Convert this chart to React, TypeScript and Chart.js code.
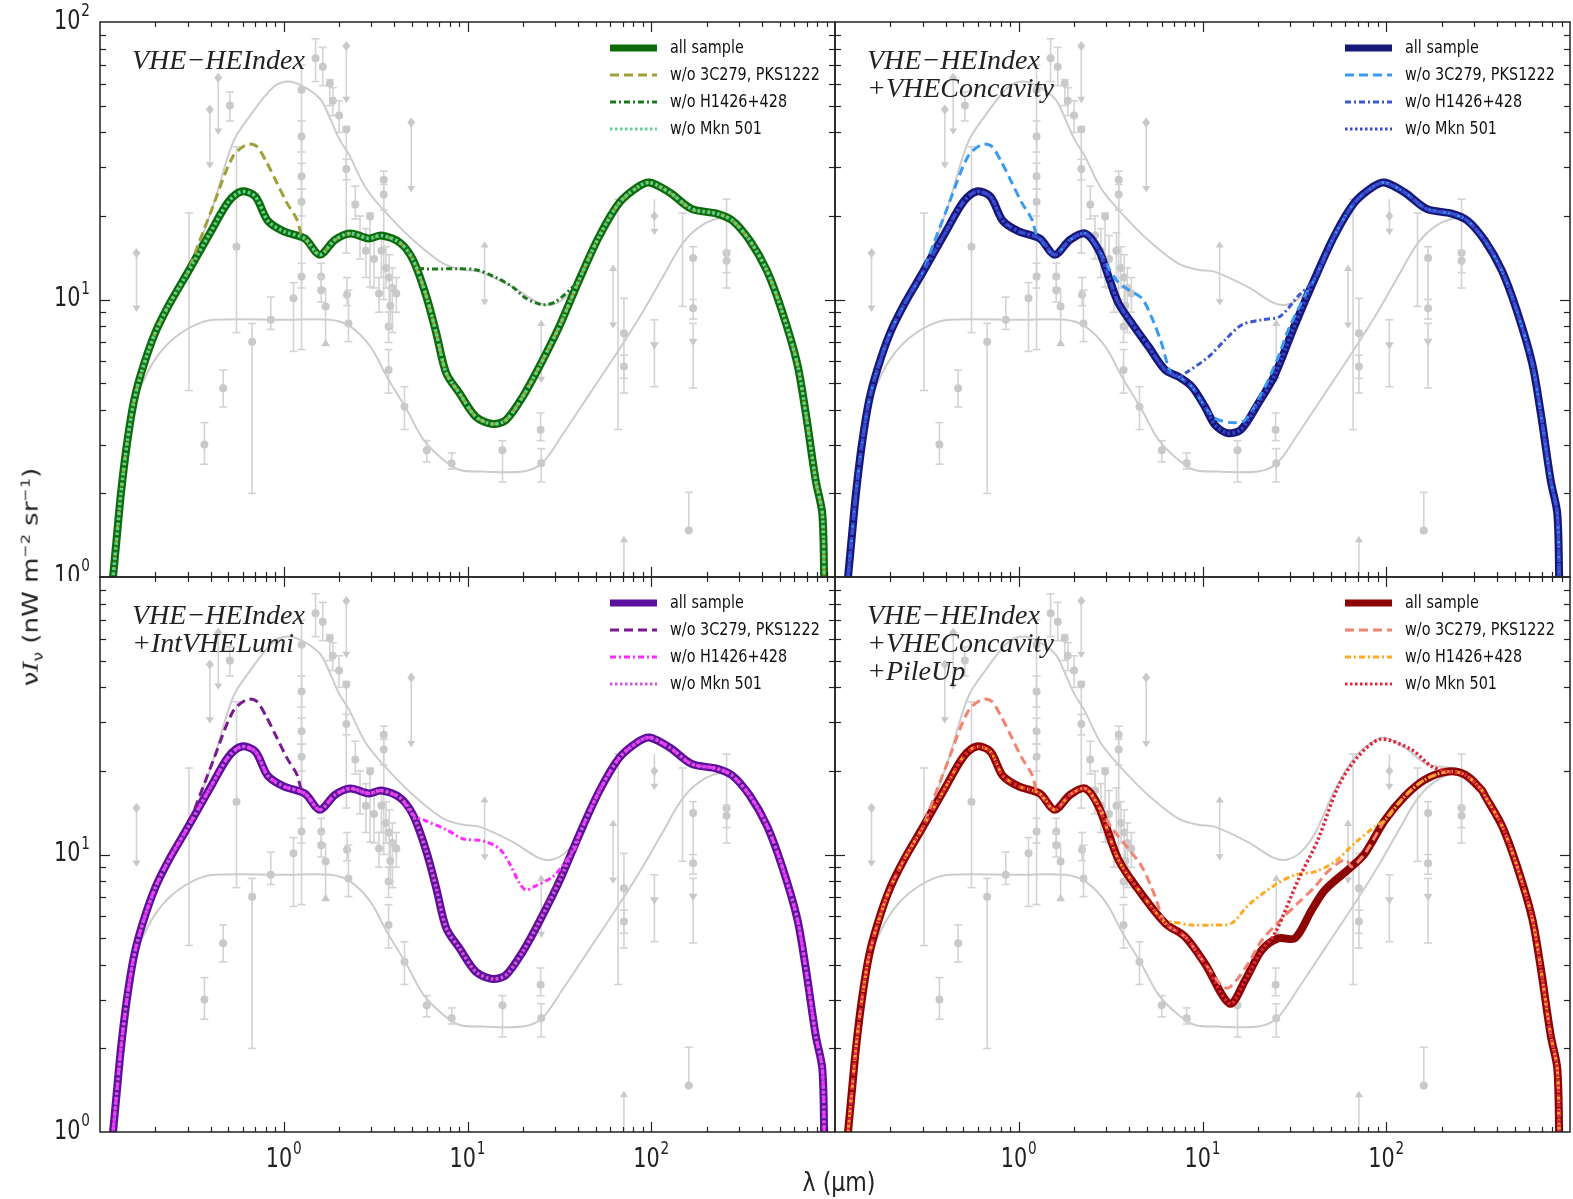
import React, { useEffect, useRef } from 'react';
import { Chart, registerables } from 'chart.js';
Chart.register(...registerables);

// ---------------- DATA ----------------
// main "all sample" curve (wavelength in µm, νIν in nW m^-2 sr^-1)
const baseLam = [0.116, 0.123, 0.13, 0.14, 0.153, 0.17, 0.2, 0.24, 0.3, 0.4, 0.5, 0.59, 0.7, 0.82, 1.0, 1.3, 1.57, 1.9, 2.3, 2.9, 3.4, 4.3, 5.05, 5.96, 6.76, 7.66, 9.05, 11.1, 13.7, 16.2, 20, 24.6, 31.6, 40.6, 52.1, 67, 85, 98, 126, 166, 227, 275, 344, 426, 514, 622, 693, 785, 853, 875];
const baseVal = [0.9, 1.36, 2.0, 3.0, 4.3, 5.6, 7.6, 9.7, 12.5, 17.5, 22.5, 24.5, 23.5, 19.2, 17.6, 16.6, 14.5, 16.4, 17.3, 16.6, 17.0, 16.0, 13.9, 10.3, 7.56, 5.43, 4.59, 3.78, 3.56, 3.68, 4.47, 5.73, 8.0, 11.8, 16.9, 22.3, 25.5, 26.4, 24.3, 21.2, 20.4, 19.3, 16.3, 12.7, 9.1, 5.9, 3.9, 2.23, 1.69, 0.9];

// w/o 3C279, PKS1222 optical bump (same in all panels)
const bumpLam = [0.308, 0.411, 0.528, 0.63, 0.713, 0.809, 0.916, 1.04, 1.18, 1.25];
const bumpVal = [13.1, 21.6, 32.7, 36.2, 35.6, 31.1, 26.4, 22.3, 19.4, 17.0];

// panel 1 (VHE-HEIndex): w/o H1426+428 segment
const p1DashDotLam = [5.26, 8.68, 11.1, 14.3, 17.6, 20.8, 25.7, 30.3, 37.4];
const p1DashDotVal = [13.0, 12.9, 12.8, 12.0, 11.1, 10.1, 9.57, 9.84, 11.1];

// panel 2 (+VHEConcavity)
const p2SolidLam = [2.72, 3.08, 3.49, 4.13, 5.09, 6.27, 7.41, 8.75, 10.3, 11.7, 13.7, 16.2, 20, 24.6];
const p2SolidVal = [15.1, 12.1, 9.7, 8.2, 6.76, 5.57, 5.27, 4.85, 4.11, 3.53, 3.3, 3.4, 4.2, 5.3];
const p2DashALam = [3.08, 3.49, 4.0, 4.68, 5.3, 6.01, 6.7];
const p2DashAVal = [13.0, 11.5, 10.8, 10.1, 8.6, 6.9, 5.45];
const p2DashBLam = [11.7, 14.4, 17.1, 21, 25.9, 29.3, 36.1];
const p2DashBVal = [3.73, 3.6, 3.68, 4.59, 6.22, 7.77, 10.3];
const p2DashDotLam = [8.05, 10.8, 13.3, 16.4, 21, 26.4, 33.2];
const p2DashDotVal = [5.42, 6.22, 7.16, 8.11, 8.45, 8.69, 10.3];

// panel 3 (+IntVHELumi)
const p3DashLam = [25.2, 27.3, 30.3, 33];
const p3DashVal = [5.97, 6.77, 7.77, 8.8];
const p3DashDotLam = [5.05, 5.96, 7.66, 9.43, 12.1, 14.9, 16.9, 19.2, 20.8, 23.1, 29.1, 33.7, 39];
const p3DashDotVal = [13.9, 13.2, 12.3, 11.4, 11.2, 10.5, 9.3, 7.88, 7.45, 7.66, 8.32, 9.3, 10.7];

// panel 4 (+VHEConcavity +PileUp)
const p4SolidLam = [2.72, 3.49, 4.49, 6.27, 8.05, 10.3, 14.1, 17.1, 21, 25.9, 31.9, 39.3, 46.4, 64.8, 76.6, 98.4, 126, 162, 217, 268, 330];
const p4SolidVal = [14.9, 9.57, 7.45, 5.65, 5.05, 4.05, 2.9, 3.53, 4.52, 4.99, 4.99, 6.31, 7.45, 9.04, 10.1, 13.3, 16.2, 18.6, 19.9, 19.4, 17.1];
const p4DashALam = [3.2, 3.9, 4.68, 5.53];
const p4DashAVal = [12.5, 10.6, 9.04, 7.05];
const p4DashBLam = [13.5, 17.1, 21, 25.9, 33.2, 41, 48, 60];
const p4DashBVal = [3.3, 3.9, 4.9, 5.7, 6.7, 7.66, 8.67, 9.6];
const p4DashDotLam = [6.53, 8.75, 11.2, 14.4, 17.8, 24.8, 31.9, 41, 52.6, 67.6, 86.8];
const p4DashDotVal = [5.73, 5.57, 5.57, 5.65, 6.58, 7.77, 8.44, 8.67, 9.43, 11.0, 12.6];
const p4DotLam = [24.8, 33.2, 42.5, 54.8, 70.4, 93, 137, 176];
const p4DotVal = [5.2, 8.1, 11.3, 17.6, 22.6, 26.0, 23.9, 20.8];

// grey envelope curves
const greyUpLam = [0.116, 0.13, 0.153, 0.2, 0.24, 0.308, 0.411, 0.528, 0.654, 0.87, 1.05, 1.27, 1.57, 1.71, 2.0, 2.28, 2.82, 3.77, 5.26, 7.35, 9.43, 11.6, 17.6, 24.6, 29, 34.3, 40.6, 52.1, 67, 85, 98, 126, 166, 227, 275, 344, 426, 514, 622, 693, 785, 853, 875];
const greyUpVal = [0.9, 2.0, 4.3, 7.6, 9.7, 13.1, 21.6, 36.7, 45.8, 58, 61, 58.7, 53, 48, 38, 33, 25, 19.9, 16, 13.5, 12.8, 12.6, 11.1, 9.7, 9.6, 10.2, 11.8, 16.9, 22.3, 25.5, 26.4, 24.3, 21.2, 20.4, 19.3, 16.3, 12.7, 9.1, 5.9, 3.9, 2.23, 1.69, 0.9];
const greyLoLam = [0.116, 0.13, 0.14, 0.153, 0.17, 0.2, 0.25, 0.33, 0.42, 1.0, 1.79, 2.3, 2.96, 3.64, 4.68, 5.77, 7.41, 9.1, 12, 20, 25.4, 33.2, 46.4, 64.8, 86.8, 116, 149, 191, 246, 300, 344, 426, 514, 622, 693, 785, 853, 875];
const greyLoVal = [0.9, 2.0, 3.0, 4.2, 5.0, 6.1, 7.2, 8.1, 8.45, 8.45, 8.45, 8.0, 6.76, 5.27, 4.0, 3.12, 2.64, 2.43, 2.4, 2.4, 2.57, 3.29, 4.59, 6.4, 8.69, 12.1, 16, 18.6, 19.7, 19.1, 16.3, 12.7, 9.1, 5.9, 3.9, 2.23, 1.69, 0.9];

// grey EBL measurements / limits: λ, value, lower end, upper end, kind
const ptLam = [0.158, 0.305, 0.37, 0.396, 0.44, 0.468, 0.509, 0.553, 0.673, 0.85, 1.13, 1.25, 1.25, 1.25, 1.25, 1.25, 1.49, 1.6, 1.6, 1.63, 1.69, 1.78, 1.85, 2.0, 2.19, 2.19, 2.19, 2.21, 2.25, 2.45, 2.95, 3.5, 3.5, 3.4, 3.6, 3.75, 3.9, 3.72, 3.72, 4.54, 4.94, 6.0, 8.2, 12.4, 15.5, 25.2, 25.0, 25.2, 62, 66, 71, 71, 104, 104, 148, 169, 169, 169, 257, 257, 160, 71, 2.6, 2.8, 3.1, 3.3, 3.8, 4.1];
const ptVal = [14.7, 12, 3.0, 48.4, 63, 4.79, 50, 15.5, 7.05, 8.45, 10.1, 57, 38.7, 27.8, 22.5, 12.1, 74, 12.1, 10.8, 69, 9.44, 60, 52, 46, 82, 41, 29.5, 10.4, 8.2, 22, 19.9, 27, 23.9, 15, 13, 12, 11, 8.0, 5.57, 4.11, 43.4, 2.86, 2.57, 12.5, 2.86, 6.5, 3.39, 2.57, 10, 10, 7.55, 5.73, 20, 6.76, 14, 14.1, 9.3, 6.95, 14.7, 13.8, 1.47, 1.0, 17, 15, 14, 10.5, 9.5, 10.5];
const ptLo = [9.2, 4.7, 2.55, 30.2, 40, 4.1, 44, 7.6, 2.0, 7.8, 6.5, 6.6, 34, 25, 20, 11, 61, 11, 9.8, 59, 7.05, 50, 46, 40, 52, 14.7, 27, 9.5, 7.05, 19.5, 11.1, 10, 21, 12, 11, 9, 7.6, 7.0, 4.6, 3.4, 24.8, 2.6, 2.45, 9.7, 2.2, 5.1, 3.1, 2.2, 8.0, 3.4, 4.6, 5.2, 17.4, 4.85, 9.45, 9.2, 8.5, 4.8, 11, 12.5, 1.47, 1.0, 14, 12, 11, 9, 8, 9];
const ptHi = [14.7, 20.5, 3.6, 48.4, 63, 5.57, 56, 35.5, 8.2, 10.2, 11.5, 70, 44, 31, 25, 13.5, 87, 13.5, 12, 81, 11, 62, 58, 52, 82, 42, 32, 12, 10.8, 25.6, 20.5, 29, 26, 17.4, 15.5, 14.5, 13, 9.0, 6.6, 4.85, 43.4, 3.1, 2.8, 15.9, 3.1, 8.3, 3.9, 2.9, 13.1, 23, 10.1, 6.3, 23, 8.45, 20.5, 15.5, 10, 8.2, 23, 15, 2.02, 1.38, 20, 18, 17, 12, 11, 12];
const ptKind = ['d', 'b', 'o', 'd', 'd', 'o', 'o', 'o', 'o', 'o',
  'o', 'o', 'o', 'o', 'o', 'o', 'o', 'o', 'o', 'o',
  '^', 'o', 'o', 'o', 'd', 'o', 'o', 'o', 'o', 'o',
  'o', 'o', 'o', 'o', 'o', 'o', 'o', 'o', 'o', 'o',
  'd', 'o', 'o', 'r', 'o', 'r', 'o', 'o', 'r', 'b',
  'o', 'o', 'd', 'v', 'b', 'o', 'o', 'v', 'o', 'o',
  'o', 'u', 'o', 'o', 'o', 'o', 'o', 'o'];

const legendLabels = ['all sample', 'w/o 3C279, PKS1222', 'w/o H1426+428', 'w/o Mkn 501'];
const panelTitles = [
  ['VHE\u2212HEIndex'],
  ['VHE\u2212HEIndex', '+VHEConcavity'],
  ['VHE\u2212HEIndex', '+IntVHELumi'],
  ['VHE\u2212HEIndex', '+VHEConcavity', '+PileUp'],
];
const panelColors = [
  ['#0c6c0c', '#a0a038', '#1c781c', '#5fd38f'],
  ['#17177a', '#3a9af0', '#3c56d2', '#3a46d0'],
  ['#5c109e', '#7b1990', '#ff2cff', '#d058e0'],
  ['#8c0404', '#f3846f', '#ffa820', '#e0283c'],
];
const yTickExps = [[2, 1, 0], [], [1, 0], []];
const xTickExps = [[], [], [0, 1, 2], [0, 1, 2]];

// ---------------- helpers ----------------
type Pt = { x: number; y: number };
function toPts(l: number[], v: number[]): Pt[] {
  return l.map((x, i) => ({ x, y: v[i] }));
}
function splice(base: Pt[], segL: number[], segV: number[]): Pt[] {
  const lo = segL[0], hi = segL[segL.length - 1];
  const out = base.filter(p => p.x < lo || p.x > hi).concat(toPts(segL, segV));
  out.sort((a, b) => a.x - b.x);
  return out;
}

const base = toPts(baseLam, baseVal);
const p2Solid = splice(base, p2SolidLam, p2SolidVal);
const p4Solid = splice(base, p4SolidLam, p4SolidVal);
const panelSeries: Pt[][][] = [
  [base, splice(base, bumpLam, bumpVal), splice(base, p1DashDotLam, p1DashDotVal), base],
  [p2Solid,
    splice(splice(splice(p2Solid, bumpLam, bumpVal), p2DashALam, p2DashAVal), p2DashBLam, p2DashBVal),
    splice(p2Solid, p2DashDotLam, p2DashDotVal), p2Solid],
  [base, splice(splice(base, bumpLam, bumpVal), p3DashLam, p3DashVal), splice(base, p3DashDotLam, p3DashDotVal), base],
  [p4Solid,
    splice(splice(splice(p4Solid, bumpLam, bumpVal), p4DashALam, p4DashAVal), p4DashBLam, p4DashBVal),
    splice(p4Solid, p4DashDotLam, p4DashDotVal),
    splice(p4Solid, p4DotLam, p4DotVal)],
];

const lineWidths = [8, 3, 3, 3.5];
const lineDashes: number[][] = [[], [9, 5], [6, 3, 2, 3], [2.5, 2.5]];

// panel geometry (page pixels)
const RECTS = [
  { L: 100, T: 22, R: 835, B: 577 },
  { L: 835, T: 22, R: 1570, B: 577 },
  { L: 100, T: 577, R: 835, B: 1132 },
  { L: 835, T: 577, R: 1570, B: 1132 },
];

const SANS = '"DejaVu Sans", sans-serif';

function drawPow10(ctx: CanvasRenderingContext2D, exp: number, x: number, y: number, align: string) {
  const sx = 0.8;
  ctx.font = `26px ${SANS}`;
  const wb = ctx.measureText('10').width;
  ctx.font = `17px ${SANS}`;
  const ws = ctx.measureText(String(exp)).width;
  const total = (wb + ws + 1) * sx;
  const x0 = align === 'center' ? x - total / 2 : x - total;
  ctx.save();
  ctx.translate(x0, y);
  ctx.scale(sx, 1);
  ctx.textAlign = 'left';
  ctx.textBaseline = 'middle';
  ctx.fillStyle = '#222';
  ctx.font = `26px ${SANS}`;
  ctx.fillText('10', 0, 0);
  ctx.font = `17px ${SANS}`;
  ctx.fillText(String(exp), wb + 1, -10);
  ctx.restore();
}

const greyPlugin = {
  id: 'greyPoints',
  beforeDatasetsDraw(chart: any) {
    const { ctx, chartArea: a, scales } = chart;
    const xs = scales.x, ys = scales.y;
    ctx.save();
    ctx.beginPath();
    ctx.rect(a.left, a.top, a.right - a.left, a.bottom - a.top);
    ctx.clip();
    ctx.strokeStyle = '#d3d3d3';
    ctx.fillStyle = '#c9c9c9';
    ctx.lineWidth = 1.6;
    for (let i = 0; i < ptLam.length; i++) {
      const px = xs.getPixelForValue(ptLam[i]);
      const pv = ys.getPixelForValue(ptVal[i]);
      const plo = ys.getPixelForValue(ptLo[i]);
      const phi = ys.getPixelForValue(ptHi[i]);
      const k = ptKind[i];
      ctx.beginPath();
      ctx.moveTo(px, phi);
      ctx.lineTo(px, plo);
      ctx.stroke();
      const cap = (yy: number) => { ctx.beginPath(); ctx.moveTo(px - 4, yy); ctx.lineTo(px + 4, yy); ctx.stroke(); };
      const triDown = (yy: number, s: number) => { ctx.beginPath(); ctx.moveTo(px - s, yy - s); ctx.lineTo(px + s, yy - s); ctx.lineTo(px, yy + s * 0.6); ctx.closePath(); ctx.fill(); };
      const triUp = (yy: number, s: number) => { ctx.beginPath(); ctx.moveTo(px - s, yy + s); ctx.lineTo(px + s, yy + s); ctx.lineTo(px, yy - s * 0.6); ctx.closePath(); ctx.fill(); };
      if (k === 'o') {
        cap(plo); cap(phi);
        ctx.beginPath(); ctx.arc(px, pv, 4, 0, Math.PI * 2); ctx.fill();
      } else if (k === 'b') {
        cap(plo); cap(phi);
      } else if (k === 'd') {
        ctx.beginPath(); ctx.moveTo(px, pv - 5); ctx.lineTo(px + 4, pv); ctx.lineTo(px, pv + 5); ctx.lineTo(px - 4, pv); ctx.closePath(); ctx.fill();
        triDown(plo, 4);
      } else if (k === 'u') {
        triUp(phi, 4);
      } else if (k === 'v') {
        cap(plo); cap(phi);
        triDown(pv, 4.5);
      } else if (k === '^') {
        triUp(plo, 4.5);
        ctx.beginPath(); ctx.arc(px, pv, 4, 0, Math.PI * 2); ctx.fill();
      } else if (k === 'r') {
        triUp(phi, 4);
        triDown(plo, 4);
      }
    }
    ctx.restore();
  },
};

function makeDecor(idx: number) {
  return {
    id: 'decor' + idx,
    afterDraw(chart: any) {
      const { ctx, chartArea: a, scales } = chart;
      const xs = scales.x, ys = scales.y;
      ctx.save();
      ctx.strokeStyle = '#222';
      ctx.lineWidth = 1.2;
      const seg = (x1: number, y1: number, x2: number, y2: number) => {
        ctx.beginPath(); ctx.moveTo(x1, y1); ctx.lineTo(x2, y2); ctx.stroke();
      };
      for (let d = -1; d <= 2; d++) {
        for (let m = 1; m <= 9; m++) {
          const v = m * Math.pow(10, d);
          if (d === -1 && m === 1) continue;
          const px = Math.round(xs.getPixelForValue(v)) + 0.5;
          const len = m === 1 ? 10 : 5;
          seg(px, a.top, px, a.top + len);
          seg(px, a.bottom, px, a.bottom - len);
        }
      }
      for (let d = 0; d <= 1; d++) {
        for (let m = 1; m <= 9; m++) {
          const v = m * Math.pow(10, d);
          if (d === 0 && m === 1) continue;
          const py = Math.round(ys.getPixelForValue(v)) + 0.5;
          const len = m === 1 ? 10 : 6;
          seg(a.left, py, a.left + len, py);
          seg(a.right, py, a.right - len, py);
        }
      }
      ctx.lineWidth = 1.5;
      ctx.strokeRect(a.left, a.top, a.right - a.left, a.bottom - a.top);

      for (const e of yTickExps[idx]) {
        drawPow10(ctx, e, a.left - 10, ys.getPixelForValue(Math.pow(10, e)), 'right');
      }
      for (const e of xTickExps[idx]) {
        drawPow10(ctx, e, xs.getPixelForValue(Math.pow(10, e)), a.bottom + 28, 'center');
      }

      // legend
      const rows = [26, 53, 80, 107];
      const cols = panelColors[idx];
      for (let k = 0; k < 4; k++) {
        const yy = a.top + rows[k];
        ctx.save();
        ctx.strokeStyle = cols[k];
        ctx.lineWidth = k === 0 ? 7 : 3;
        ctx.setLineDash(lineDashes[k]);
        seg(a.right - 225, yy, a.right - 178, yy);
        ctx.restore();
        ctx.save();
        ctx.translate(a.right - 165, yy);
        ctx.scale(0.8, 1);
        ctx.font = `18px ${SANS}`;
        ctx.fillStyle = '#111';
        ctx.textBaseline = 'middle';
        ctx.textAlign = 'left';
        ctx.fillText(legendLabels[k], 0, 0);
        ctx.restore();
      }

      // model label
      ctx.fillStyle = '#222';
      ctx.font = 'italic 28px "Liberation Serif", serif';
      ctx.textBaseline = 'alphabetic';
      ctx.textAlign = 'left';
      panelTitles[idx].forEach((t, i) => ctx.fillText(t, a.left + 32, a.top + 47 + 28 * i));
      ctx.restore();
    },
  };
}

function Panel({ idx }: { idx: number }) {
  const ref = useRef<HTMLCanvasElement>(null);
  const r = RECTS[idx];
  const padL = idx % 2 === 0 ? 100 : 4;
  const padR = 3;
  const padT = idx < 2 ? 22 : 4;
  const padB = idx >= 2 ? 67 : 4;
  const w = r.R - r.L + padL + padR;
  const h = r.B - r.T + padT + padB;
  useEffect(() => {
    const cols = panelColors[idx];
    const series = panelSeries[idx];
    const datasets: any[] = series.map((pts, k) => ({
      data: pts,
      borderColor: cols[k],
      borderWidth: lineWidths[k],
      borderDash: lineDashes[k],
      borderJoinStyle: 'round',
      pointRadius: 0,
      fill: false,
      tension: 0.3,
      clip: 0,
      order: 5 - k,
    }));
    datasets.push({ data: toPts(greyUpLam, greyUpVal), borderColor: '#cccccc', borderWidth: 2, pointRadius: 0, fill: false, tension: 0.35, clip: 0, order: 10 });
    datasets.push({ data: toPts(greyLoLam, greyLoVal), borderColor: '#cccccc', borderWidth: 2, pointRadius: 0, fill: false, tension: 0.35, clip: 0, order: 10 });
    const chart = new Chart(ref.current as HTMLCanvasElement, {
      type: 'line',
      data: { datasets },
      options: {
        responsive: false,
        animation: false,
        devicePixelRatio: 1,
        events: [],
        layout: { padding: { left: padL, right: padR, top: padT, bottom: padB } },
        plugins: { legend: { display: false }, tooltip: { enabled: false } },
        scales: {
          x: { type: 'logarithmic', min: 0.1, max: 1000, display: false },
          y: { type: 'logarithmic', min: 1, max: 100, display: false },
        },
      } as any,
      plugins: [greyPlugin, makeDecor(idx)],
    });
    return () => chart.destroy();
  }, []);
  return (
    <canvas
      ref={ref}
      width={w}
      height={h}
      style={{ position: 'absolute', left: r.L - padL, top: r.T - padT, width: w, height: h }}
    />
  );
}

export default function App() {
  return (
    <div style={{ position: 'absolute', left: 0, top: 0, width: 1573, height: 1199, overflow: 'hidden', background: '#fff' }}>
      {[0, 1, 2, 3].map(i => <Panel key={i} idx={i} />)}
      <div
        style={{
          position: 'absolute', left: 32, top: 577,
          transform: 'translate(-50%, -50%) rotate(-90deg) scaleY(0.8)',
          whiteSpace: 'nowrap', fontFamily: SANS, fontSize: 26, color: '#222', lineHeight: 1,
        }}
      >
        ν<span style={{ fontFamily: '"DejaVu Serif", serif', fontStyle: 'italic' }}>I</span>
        <sub style={{ fontSize: 17 }}>ν</sub>
        {'  (nW  m'}<sup style={{ fontSize: 16 }}>−2</sup>{'  sr'}<sup style={{ fontSize: 16 }}>−1</sup>{')'}
      </div>
      <div
        style={{
          position: 'absolute', left: 839, top: 1182,
          transform: 'translate(-50%, -50%) scaleX(0.85)',
          whiteSpace: 'nowrap', fontFamily: SANS, fontSize: 26, color: '#222', lineHeight: 1,
        }}
      >
        λ (µm)
      </div>
    </div>
  );
}
